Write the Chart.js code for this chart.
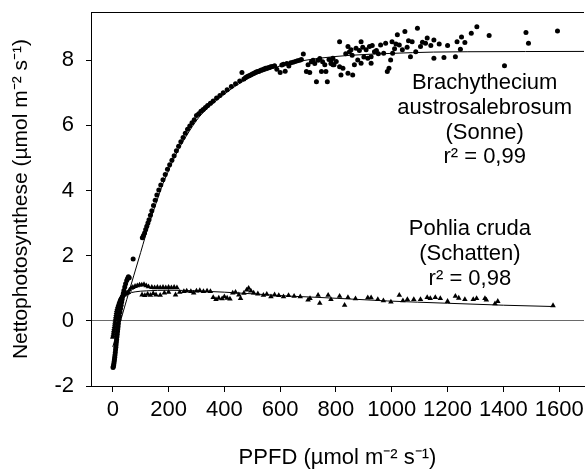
<!DOCTYPE html>
<html><head><meta charset="utf-8">
<script src="https://cdn.jsdelivr.net/npm/chart.js@4/dist/chart.umd.min.js"></script>
<style>html,body{margin:0;padding:0;background:#fff}#wrap{width:588px;height:474px;position:relative}</style>
</head><body><div id="wrap"><canvas id="c" width="588" height="474"></canvas></div>
<script>
const xTicks = [0,200,400,600,800,1000,1200,1400,1600];
const yTicks = [-2,0,2,4,6,8];

const brachyX = [1,2,3,4,5,6,7,8,9,10,11,12,13,14,15,16,17,18,19,20,22,24,26,28,30,32,34,36,38,40,43,46,50,53,56,59,73,
106,110,114,118,122,126,130,135,140,146,152,158,165,172,180,188,196,204,212,220,228,236,244,252,260,268,276,284,292,300,308,316,324,332,340,350,360,372,384,396,410,425,440,455,463,
470,476,482,488,494,500,506,512,518,524,530,536,542,548,554,560,566,572,580,588,600,606,612,618,624,631,638,646,654,662,670,676,
683,694,700,706,712,718,724,730,736,742,748,752,760,764,769,775,782,783,789,789,793,801,813,813,818,825,835,843,843,848,854,858,860,866,872,878,884,890,890,896,900,908,914,920,926,926,930,938,945,952,960,971,978,984,990,996,1001,1003,1010,1015,1020,1027,1038,1047,1055,1060,1067,1073,1086,1092,1103,1110,1121,1127,1140,1151,1151,1170,1187,1200,1228,1234,1246,1250,1262,1285,1305,1349,1404,1481,1490,1594];
const brachyY = [-1.43,-1.40,-1.36,-1.31,-1.25,-1.19,-1.12,-1.05,-0.97,-0.89,-0.81,-0.73,-0.65,-0.57,-0.49,-0.41,-0.33,-0.25,-0.17,-0.09,0.03,0.15,0.27,0.38,0.48,0.58,0.67,0.76,0.85,0.93,1.04,1.14,1.24,1.30,1.35,1.32,1.90,
2.55,2.62,2.70,2.80,2.90,3.00,3.10,3.24,3.38,3.54,3.70,3.86,4.02,4.17,4.33,4.49,4.65,4.79,4.93,5.07,5.22,5.36,5.50,5.63,5.76,5.88,5.98,6.08,6.17,6.30,6.36,6.43,6.49,6.55,6.61,6.68,6.75,6.84,6.92,7.00,7.09,7.19,7.28,7.36,7.62,
7.42,7.47,7.50,7.52,7.55,7.58,7.60,7.63,7.65,7.66,7.69,7.71,7.73,7.75,7.76,7.78,7.80,7.81,7.83,7.72,7.62,7.85,7.88,7.66,7.90,7.82,7.92,7.94,7.96,7.98,8.00,8.02,
8.19,7.65,7.86,7.62,7.95,8.00,7.90,7.34,8.00,8.05,7.65,7.95,7.86,7.65,7.34,8.02,7.90,8.01,8.06,7.86,7.86,7.96,7.80,8.57,7.55,7.75,8.20,7.60,8.42,8.25,8.32,8.15,7.55,7.86,8.37,8.01,8.30,7.91,8.57,8.40,8.10,8.32,8.06,8.42,8.11,7.91,8.45,8.26,8.30,8.20,8.47,8.21,8.52,7.65,7.75,8.01,8.57,8.21,8.35,8.50,8.78,8.47,8.32,8.88,8.40,8.60,8.11,8.57,8.26,8.98,8.42,8.55,8.52,8.68,8.45,8.62,8.06,8.50,8.08,8.45,8.11,8.57,8.34,8.71,8.54,8.83,9.03,8.76,7.83,8.85,8.52,8.90];

const pohliaX = [0,1,2,3,4,5,6,7,8,9,10,11,12,13,14,16,18,20,22,24,26,28,30,33,36,40,44,48,52,56,
60,66,72,80,88,96,104,112,120,128,140,150,160,170,180,190,200,210,220,230,
105,115,125,135,145,155,170,185,200,225,240,255,265,280,290,300,312,325,338,350,360,370,380,392,400,410,420,430,440,452,458,470,480,487,495,505,520,540,552,567,580,595,612,630,650,672,700,707,736,742,772,782,813,831,843,870,914,926,950,970,997,1027,1040,1056,1079,1103,1127,1138,1156,1174,1200,1228,1240,1262,1292,1304,1334,1339,1370,1380,1578];
const pohliaY = [-0.50,-0.46,-0.41,-0.35,-0.29,-0.23,-0.17,-0.10,-0.04,0.02,0.08,0.14,0.20,0.26,0.32,0.38,0.44,0.50,0.55,0.60,0.64,0.68,0.72,0.75,0.78,0.80,0.82,0.84,0.86,0.87,
0.95,1.00,1.03,1.06,1.08,1.10,1.10,1.12,1.08,1.05,1.03,1.02,1.03,1.02,1.03,1.02,1.03,1.02,1.03,1.02,
0.80,0.78,0.82,0.79,0.84,0.80,0.79,0.86,0.88,0.80,0.88,0.90,0.92,0.90,0.86,0.92,0.93,0.90,0.92,0.90,0.72,0.66,0.70,0.68,0.74,0.70,0.67,0.86,0.88,0.80,0.69,0.85,0.95,1.00,0.92,0.86,0.83,0.79,0.82,0.74,0.80,0.78,0.74,0.78,0.76,0.74,0.64,0.69,0.79,0.54,0.79,0.66,0.76,0.48,0.72,0.68,0.71,0.71,0.66,0.62,0.58,0.79,0.62,0.66,0.66,0.66,0.72,0.69,0.72,0.69,0.60,0.76,0.70,0.66,0.66,0.69,0.69,0.64,0.53,0.60,0.47];

const brachyFitX = [0,28,50,75,100,117,135,155,175,197,226,262,309,350,392,430,463,510,558,620,677,750,850,1000,1150,1270,1689];
const brachyFitY = [-0.8,0.0,0.65,1.38,2.1,2.6,3.1,3.6,4.1,4.55,5.1,5.65,6.25,6.6,6.9,7.15,7.33,7.55,7.7,7.88,7.98,8.07,8.15,8.21,8.25,8.26,8.27];
const pohliaFitX = [0,10,20,30,40,55,80,120,200,300,400,500,629,711,807,985,1200,1400,1578];
const pohliaFitY = [-0.45,-0.05,0.35,0.6,0.74,0.83,0.89,0.92,0.94,0.92,0.88,0.83,0.76,0.73,0.69,0.61,0.54,0.48,0.44];

const brachyNote = ['Brachythecium','austrosalebrosum','(Sonne)','r² = 0,99'];
const pohliaNote = ['Pohlia cruda','(Schatten)','r² = 0,98'];

const FONT = "'Liberation Sans', Arial, sans-serif";
const FS = 22;
const pts = (xs, ys) => xs.map((x, i) => ({x, y: ys[i]}));

const frame = {
  id: 'frame',
  afterDraw(chart) {
    const {ctx, chartArea: a, scales} = chart;
    ctx.save();
    ctx.strokeStyle = '#000'; ctx.lineWidth = 1;
    ctx.beginPath(); ctx.moveTo(a.left, Math.round(a.top) + 0.5); ctx.lineTo(a.right, Math.round(a.top) + 0.5); ctx.stroke();
    ctx.fillStyle = '#000';
    ctx.font = FS + 'px ' + FONT;
    ctx.textAlign = 'center'; ctx.textBaseline = 'middle';
    const notes = [[brachyNote, 1333, 7.30], [pohliaNote, 1280, 2.81]];
    for (const [lines, xv, yv] of notes) {
      const px = scales.x.getPixelForValue(xv);
      const py = scales.y.getPixelForValue(yv);
      lines.forEach((t, i) => ctx.fillText(t, px, py + i * 24.8));
    }
    ctx.restore();
  }
};

new Chart(document.getElementById('c'), {
  type: 'scatter',
  data: {
    datasets: [
      {data: pts(brachyFitX, brachyFitY), showLine: true, borderColor: '#000', borderWidth: 1, pointRadius: 0, cubicInterpolationMode: 'monotone', fill: false},
      {data: pts(pohliaFitX, pohliaFitY), showLine: true, borderColor: '#000', borderWidth: 1, pointRadius: 0, cubicInterpolationMode: 'monotone', fill: false},
      {data: pts(brachyX, brachyY), pointStyle: 'circle', pointRadius: 2.5, backgroundColor: '#000', borderColor: '#000', borderWidth: 0},
      {data: pts(pohliaX, pohliaY), pointStyle: 'triangle', pointRadius: 3.2, backgroundColor: '#000', borderColor: '#000', borderWidth: 0}
    ]
  },
  options: {
    responsive: false, animation: false, devicePixelRatio: 1,
    layout: {padding: {top: 12, right: 0, left: 0, bottom: 0}},
    plugins: {legend: {display: false}, tooltip: {enabled: false}},
    scales: {
      x: {
        type: 'linear', min: -78, max: 1689,
        afterBuildTicks: s => { s.ticks = xTicks.map(v => ({value: v})); },
        afterFit: s => { s.height = 88; s.paddingLeft = 0; s.paddingRight = 0; },
        ticks: {font: {family: FONT, size: FS}, color: '#000', padding: 5, maxRotation: 0, autoSkip: false, callback: v => String(v)},
        grid: {drawOnChartArea: false, drawTicks: true, tickLength: 6, tickColor: '#000'},
        border: {display: true, color: '#000', width: 1},
        title: {display: true, text: 'PPFD (µmol m⁻² s⁻¹)', color: '#000', font: {family: FONT, size: FS}, padding: {top: 0, bottom: 3}}
      },
      y: {
        min: -2, max: 9.48,
        afterBuildTicks: s => { s.ticks = yTicks.map(v => ({value: v})); },
        afterFit: s => { s.width = 91; s.paddingTop = 0; s.paddingBottom = 0; },
        ticks: {font: {family: FONT, size: FS}, color: '#000', padding: 12, callback: v => String(v)},
        grid: {color: c => (c.tick && c.tick.value === 0) ? '#6a6a6a' : 'rgba(0,0,0,0)', lineWidth: 1, drawTicks: true, tickLength: 5, tickColor: '#000'},
        border: {display: true, color: '#000', width: 1},
        title: {display: true, text: 'Nettophotosynthese (µmol m⁻² s⁻¹)', color: '#000', font: {family: FONT, size: 21}, padding: {top: 9, bottom: 0}}
      }
    }
  },
  plugins: [frame]
});
</script></body></html>
